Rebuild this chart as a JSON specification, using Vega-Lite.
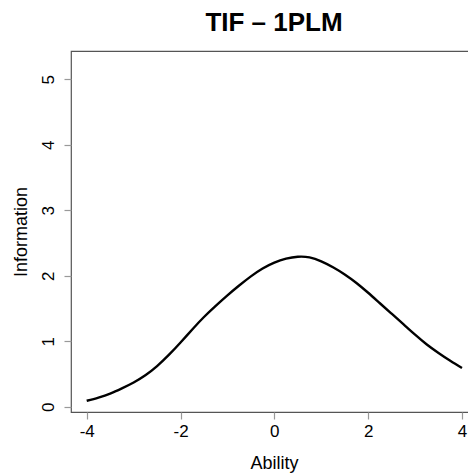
{
  "$schema": "https://vega.github.io/schema/vega-lite/v6.json",
  "autosize": {"type": "none"},
  "padding": {"left": 71, "top": 51, "right": 0, "bottom": 61},
  "width": 406,
  "height": 361,
  "title": {
    "text": "TIF – 1PLM",
    "font": "Liberation Sans",
    "fontSize": 26,
    "fontWeight": "bold",
    "color": "#000000",
    "anchor": "middle",
    "frame": "group",
    "baseline": "alphabetic",
    "offset": 19,
    "dy": 25
  },
  "config": {
    "view": {"stroke": "#555555", "strokeWidth": 1.2},
    "axis": {
      "grid": false,
      "domain": false,
      "ticks": true,
      "tickColor": "#999999",
      "tickSize": 7,
      "tickWidth": 1.2,
      "labelFont": "Liberation Sans",
      "labelFontSize": 17,
      "labelColor": "#000000",
      "titleFont": "Liberation Sans",
      "titleFontSize": 18,
      "titleFontWeight": "normal",
      "titleColor": "#000000"
    }
  },
  "data": {
    "values": [
      {"ability": -4.0, "info": 0.09},
      {"ability": -3.75, "info": 0.14},
      {"ability": -3.5, "info": 0.2},
      {"ability": -3.25, "info": 0.28},
      {"ability": -3.0, "info": 0.37},
      {"ability": -2.75, "info": 0.48},
      {"ability": -2.5, "info": 0.62},
      {"ability": -2.25, "info": 0.79},
      {"ability": -2.0, "info": 0.98},
      {"ability": -1.75, "info": 1.18},
      {"ability": -1.5, "info": 1.37},
      {"ability": -1.25, "info": 1.54},
      {"ability": -1.0, "info": 1.7},
      {"ability": -0.75, "info": 1.85},
      {"ability": -0.5, "info": 1.99},
      {"ability": -0.25, "info": 2.11},
      {"ability": 0.0, "info": 2.2},
      {"ability": 0.25, "info": 2.26},
      {"ability": 0.5, "info": 2.29},
      {"ability": 0.75, "info": 2.28},
      {"ability": 1.0, "info": 2.22},
      {"ability": 1.25, "info": 2.13},
      {"ability": 1.5, "info": 2.02},
      {"ability": 1.75, "info": 1.89},
      {"ability": 2.0, "info": 1.74},
      {"ability": 2.25, "info": 1.58},
      {"ability": 2.5, "info": 1.42},
      {"ability": 2.75, "info": 1.26},
      {"ability": 3.0, "info": 1.1},
      {"ability": 3.25, "info": 0.95},
      {"ability": 3.5, "info": 0.82},
      {"ability": 3.75, "info": 0.7},
      {"ability": 4.0, "info": 0.59}
    ]
  },
  "mark": {"type": "line", "color": "#000000", "strokeWidth": 2.4, "interpolate": "natural"},
  "encoding": {
    "x": {
      "field": "ability",
      "type": "quantitative",
      "scale": {"domain": [-4.335, 4.32], "nice": false, "zero": false},
      "axis": {
        "title": "Ability",
        "values": [-4, -2, 0, 2, 4],
        "labelExpr": "datum.value + ''",
        "labelPadding": 4,
        "labelFlush": false,
        "labelOverlap": false,
        "titleY": 56,
        "titleBaseline": "alphabetic"
      }
    },
    "y": {
      "field": "info",
      "type": "quantitative",
      "scale": {"domain": [-0.081, 5.432], "nice": false, "zero": false},
      "axis": {
        "title": "Information",
        "values": [0, 1, 2, 3, 4, 5],
        "labelAngle": -90,
        "labelAlign": "center",
        "labelBaseline": "alphabetic",
        "labelPadding": 11,
        "labelFlush": false,
        "labelOverlap": false,
        "titleX": -45,
        "titleBaseline": "alphabetic"
      }
    }
  }
}
